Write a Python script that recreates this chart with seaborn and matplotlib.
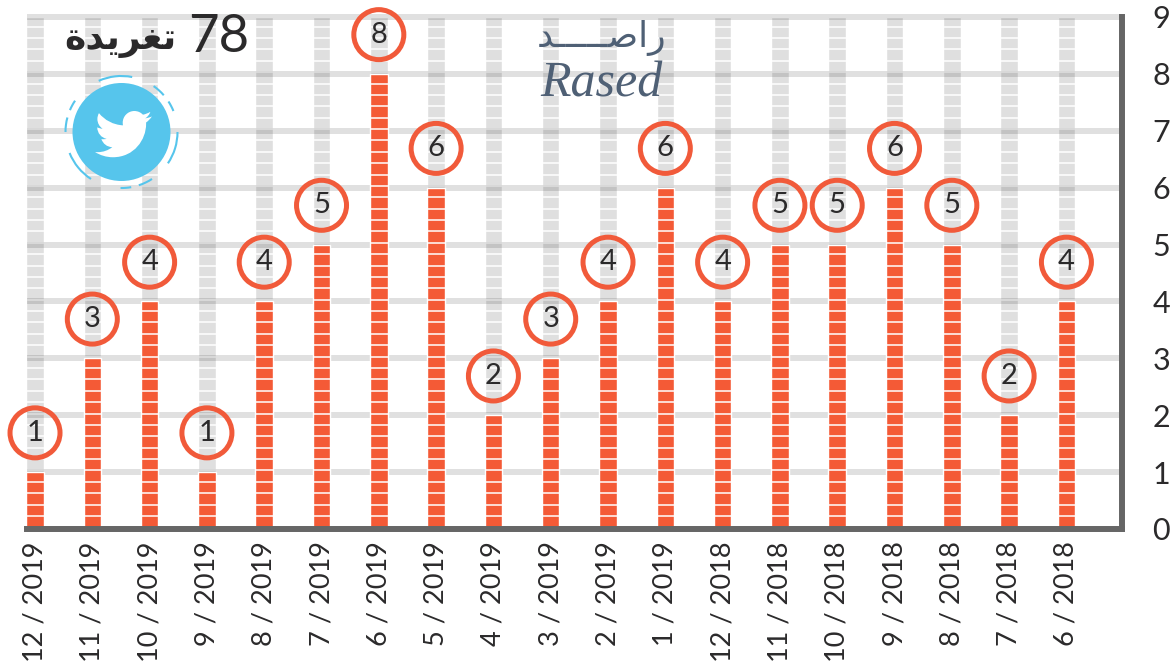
import numpy as np
import pandas as pd
import seaborn as sns
import matplotlib.pyplot as plt
from matplotlib.patches import Arc, Circle, PathPatch
from matplotlib.path import Path

# data
months = ["12 / 2019", "11 / 2019", "10 / 2019", "9 / 2019", "8 / 2019", "7 / 2019",
          "6 / 2019", "5 / 2019", "4 / 2019", "3 / 2019", "2 / 2019", "1 / 2019",
          "12 / 2018", "11 / 2018", "10 / 2018", "9 / 2018", "8 / 2018", "7 / 2018",
          "6 / 2018"]
tweets = [1, 3, 4, 1, 4, 5, 8, 6, 2, 3, 4, 6, 4, 5, 5, 6, 5, 2, 4]
y_max = 9
total_label = "78"
# arabic has no shaping in matplotlib, so these are presentation forms in visual order
tweets_word = "\uFE93\uFEAA\uFEF3\uFEAE\uFED0\uFE97"
rased_ar = "\uFEAA\u0640\u0640\u0640\u0640\u0640\uFEBB\uFE8D\uFEAD"
rased_en = "Rased"

ORANGE = "#f45a36"
TRACK = "#dfdfdf"
BLUE = "#56c5ec"
INK = "#2b2a2b"
SLATE = "#4f6075"
W, H = 1176, 664
BAR_W = 0.305

sns.set_style("white")
plt.rcParams["font.family"] = ["Lato Light", "Lato", "DejaVu Sans"]

df = pd.DataFrame({"month": months, "tweets": tweets, "track": [y_max] * len(months)})

fig = plt.figure(figsize=(W / 100, H / 100), dpi=100)
ax = fig.add_axes([27 / W, (H - 529) / H, (1122 - 27) / W, (529 - 17) / H])

# grey tracks behind, orange bars in front
sns.barplot(data=df, x="month", y="track", color=TRACK, saturation=1, width=BAR_W, zorder=1, ax=ax)
sns.barplot(data=df, x="month", y="tweets", color=ORANGE, saturation=1, width=BAR_W, zorder=3, ax=ax)

# white cuts make the bars look like stacked blocks
cuts = np.arange(0.23, y_max, 0.2)
for i, v in enumerate(tweets):
    ax.hlines(cuts, i - BAR_W / 2, i + BAR_W / 2, color="white", lw=1.1, zorder=1.5)
    ax.hlines(cuts[cuts < v], i - BAR_W / 2, i + BAR_W / 2, color="white", lw=1.1, zorder=3.5)

ax.set_xlim(-0.14, 18.97)
ax.set_ylim(0, y_max)
ax.set_xlabel("")
ax.set_ylabel("")

ax.set_yticks(range(y_max + 1))
ax.yaxis.tick_right()
ax.set_axisbelow(False)
ax.grid(axis="y", color="black", alpha=0.12, lw=4.3)
for line in ax.get_ygridlines():
    line.set_clip_on(False)
    line.set_solid_capstyle("butt")
    line.set_zorder(2.5)
ax.tick_params(axis="y", length=0, pad=22, labelsize=22, labelcolor=INK)
ax.tick_params(axis="x", length=0, pad=9, labelsize=19.5, labelcolor=INK, labelrotation=90)

for side in ["top", "left"]:
    ax.spines[side].set_visible(False)
for side in ["bottom", "right"]:
    ax.spines[side].set_color("#666666")
    ax.spines[side].set_linewidth(4.3)
    ax.spines[side].set_zorder(5)

# rings with the value, floating above each bar
ax.scatter(range(len(tweets)), np.array(tweets) + 0.69, s=1296, facecolors="none",
           edgecolors="#f15a3a", linewidths=3.6, zorder=6, clip_on=False)
for i, v in enumerate(tweets):
    ax.text(i, v + 0.69, str(v), ha="center", va="center", fontsize=21, color=INK, zorder=7)

# overlay in pixel coordinates for the header and logo
top = fig.add_axes([0, 0, 1, 1], xlim=(0, W), ylim=(H, 0), zorder=10)
top.axis("off")
top.patch.set_alpha(0)

top.text(219, 38, total_label, ha="center", va="center", fontsize=38, color=INK)
top.text(120, 41, tweets_word, ha="center", va="center", fontsize=26, color=INK,
         family="DejaVu Sans", weight="bold")
top.text(602, 38, rased_ar, ha="center", va="center", fontsize=26, color=SLATE,
         family="DejaVu Sans", weight="normal")
top.text(601, 84, rased_en, ha="center", va="center", fontsize=36, color=SLATE,
         family="Liberation Serif", style="italic")

cx, cy = 121.5, 132
top.add_patch(Circle((cx, cy), 49, color=BLUE, lw=0))
# y axis is flipped here, so arc angles run the other way round
ring = [(79, 114), (41, 55), (22, 33), (-34, 0), (-72, -57), (-91, -80),
        (-158, -123), (165, 180), (146, 157)]
for a, b in ring:
    top.add_patch(Arc((cx, cy), 112, 112, theta1=-b, theta2=-a, color=BLUE, lw=1.5))

bird = [(-.77, .35, -1.6, .58, -2.46, .69), (.88, -.53, 1.56, -1.37, 1.88, -2.38),
        (-.83, .5, -1.75, .85, -2.72, 1.05), (-.79, -.86, -1.9, -1.36, -3.16, -1.36),
        (-2.35, 0, -4.27, 1.92, -4.27, 4.29), (0, .34, .04, .67, .11, .98),
        (-3.56, -.18, -6.73, -1.89, -8.84, -4.48), (-.37, .63, -.58, 1.37, -.58, 2.15),
        (0, 1.49, .75, 2.81, 1.91, 3.56), (-.71, 0, -1.37, -.2, -1.95, -.5),
        (0, 0, 0, .03, 0, .03), (0, 2.08, 1.48, 3.82, 3.44, 4.21),
        (-.6, .16, -1.3, .2, -1.93, .07), (.55, 1.7, 2.1, 2.95, 4, 2.98),
        (-1.45, 1.15, -3.3, 1.84, -5.33, 1.84), (-.34, 0, -.68, -.02, -1.02, -.06),
        (1.9, 1.22, 4.16, 1.93, 6.58, 1.93), (7.88, 0, 12.21, -6.54, 12.21, -12.21),
        (0, -.19, 0, -.37, -.01, -.56), (.84, -.6, 1.56, -1.36, 2.14, -2.23)]
px, py = 22.46, 6.0
verts, codes = [(px, py)], [Path.MOVETO]
for c in bird:
    verts += [(px + c[0], py + c[1]), (px + c[2], py + c[3]), (px + c[4], py + c[5])]
    codes += [Path.CURVE4] * 3
    px, py = px + c[4], py + c[5]
verts = np.array(verts)
verts = (verts - [1.54, 4]) * 2.72 + [95, 111]
top.add_patch(PathPatch(Path(verts, codes), color="white", lw=0))

fig.savefig("out.png", dpi=100)
